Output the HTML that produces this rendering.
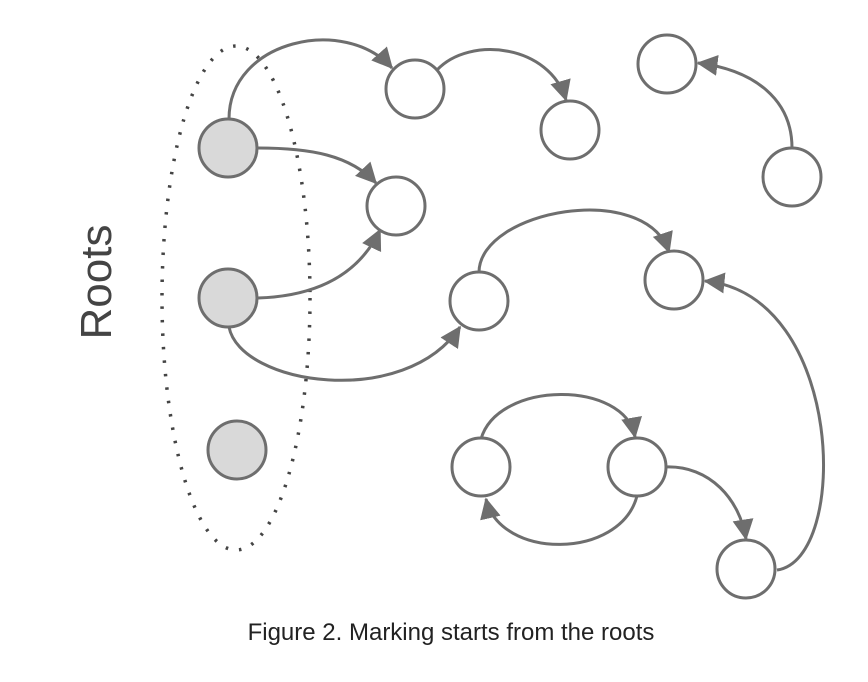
<!DOCTYPE html>
<html><head><meta charset="utf-8"><style>
html,body{margin:0;padding:0;background:#fff;}
svg{display:block;}
</style></head><body>
<svg width="868" height="682" viewBox="0 0 868 682" xmlns="http://www.w3.org/2000/svg">
<defs>
<marker id="a" markerWidth="8" markerHeight="8" refX="6.5" refY="4" orient="auto" markerUnits="strokeWidth">
<path d="M0,0.5 L7,4 L0,7.5 Z" fill="#6e6e6e"/>
</marker>
</defs>
<ellipse cx="236" cy="298" rx="74" ry="252" fill="none" stroke="#444" stroke-width="3.5" stroke-dasharray="2.5 11"/>
<g fill="none" stroke="#6e6e6e" stroke-width="3">
<path d="M229,119 C229,40 345,15 392,68" marker-end="url(#a)"/>
<path d="M437,70 C470,35 550,45 566,100" marker-end="url(#a)"/>
<path d="M792,148 C792,100 755,70 698,63" marker-end="url(#a)"/>
<path d="M258,148 C310,148 350,155 376,183" marker-end="url(#a)"/>
<path d="M258,298 C320,296 360,272 380,230" marker-end="url(#a)"/>
<path d="M229,327 C240,385 405,410 460,327" marker-end="url(#a)"/>
<path d="M479,272 C480,210 645,180 669,252" marker-end="url(#a)"/>
<path d="M777,570 C850,560 845,295 705,281" marker-end="url(#a)"/>
<path d="M481,439 C498,380 625,380 635,437" marker-end="url(#a)"/>
<path d="M637,496 C620,560 500,560 486,499" marker-end="url(#a)"/>
<path d="M665,467 C710,465 740,500 746,539" marker-end="url(#a)"/>
</g>
<g stroke="#6e6e6e" stroke-width="3">
<circle cx="228" cy="148" r="29" fill="#d9d9d9"/>
<circle cx="228" cy="298" r="29" fill="#d9d9d9"/>
<circle cx="237" cy="450" r="29" fill="#d9d9d9"/>
<g fill="#fff">
<circle cx="415" cy="89" r="29"/>
<circle cx="570" cy="130" r="29"/>
<circle cx="667" cy="64" r="29"/>
<circle cx="792" cy="177" r="29"/>
<circle cx="396" cy="206" r="29"/>
<circle cx="479" cy="301" r="29"/>
<circle cx="674" cy="280" r="29"/>
<circle cx="481" cy="467" r="29"/>
<circle cx="637" cy="467" r="29"/>
<circle cx="746" cy="569" r="29"/>
</g>
</g>
<text x="0" y="0" transform="translate(111,282) rotate(-90)" text-anchor="middle" font-family="Liberation Sans, sans-serif" font-size="44" fill="#444">Roots</text>
<text x="451" y="640" text-anchor="middle" font-family="Liberation Sans, sans-serif" font-size="24" fill="#222">Figure 2. Marking starts from the roots</text>
</svg>
</body></html>
